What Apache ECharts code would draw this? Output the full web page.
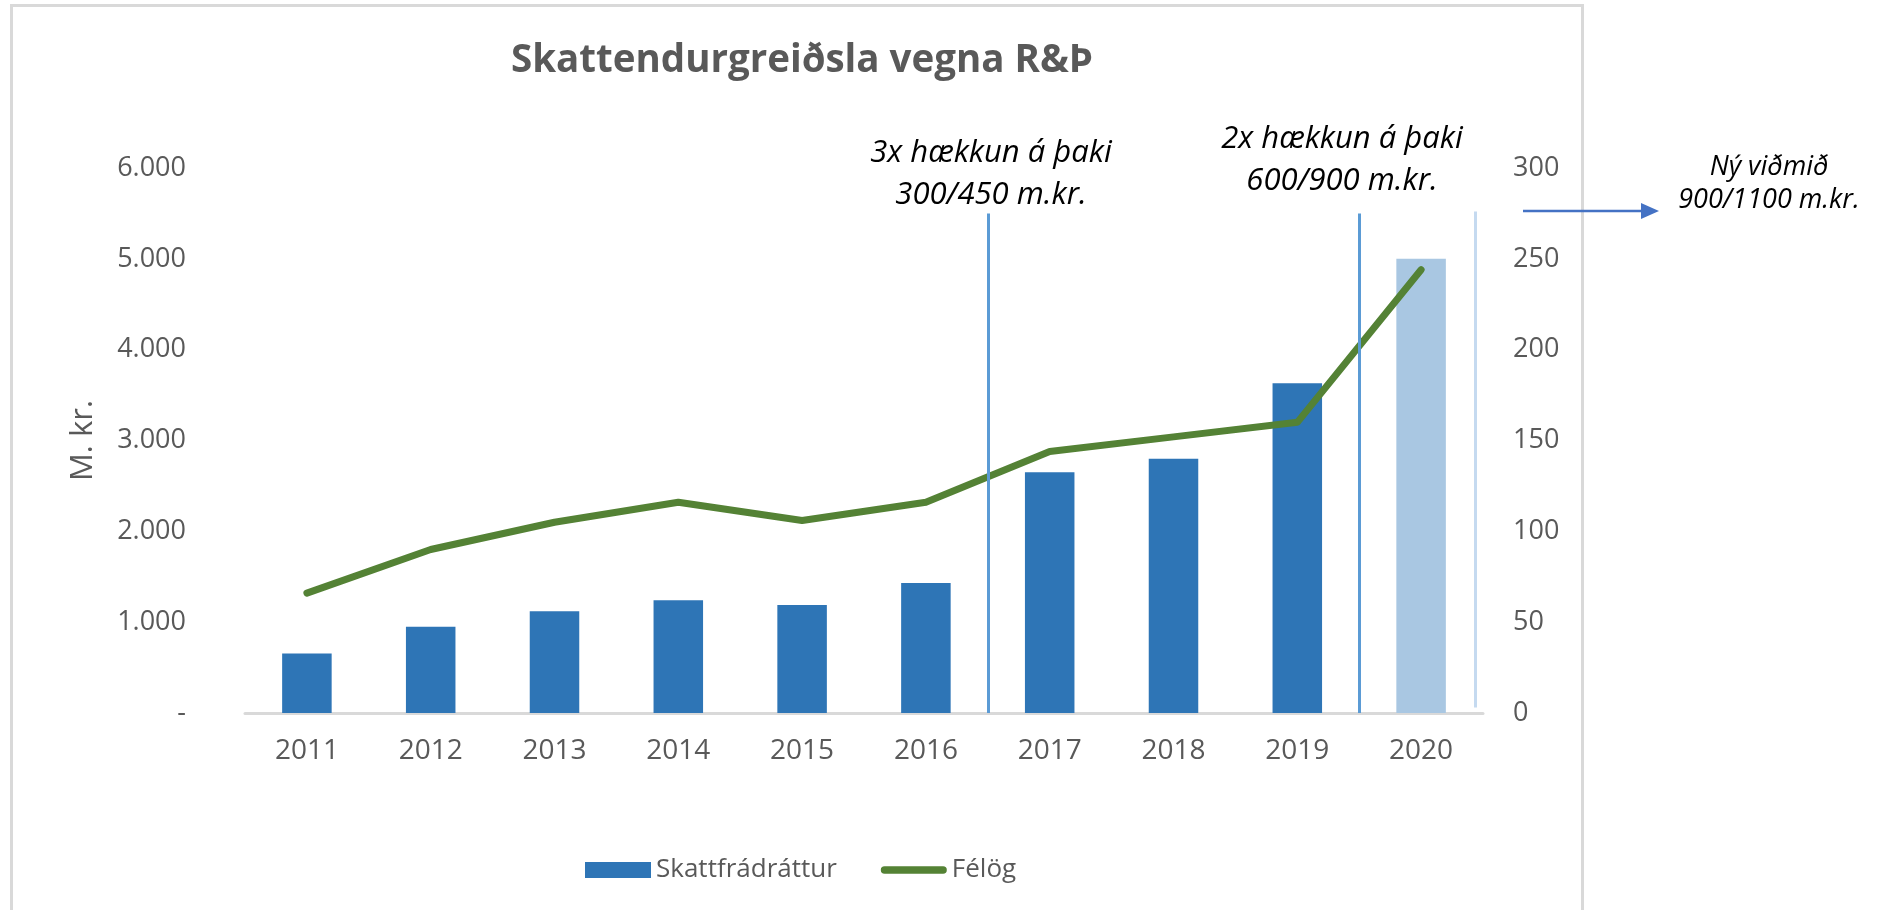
<!DOCTYPE html>
<html>
<head>
<meta charset="utf-8">
<title>Skattendurgreiðsla vegna R&amp;Þ</title>
<script src="https://cdn.jsdelivr.net/npm/echarts@6/dist/echarts.min.js"></script>
<style>
  html, body { margin: 0; padding: 0; background: #fff; }
  #chart { width: 1880px; height: 910px; }
</style>
</head>
<body>
<div id="chart"></div>
<script>
// data
var years = ['2011', '2012', '2013', '2014', '2015', '2016', '2017', '2018', '2019', '2020']
var skattfradrattur = [655, 950, 1120, 1240, 1190, 1430, 2650, 2800, 3630, 5000] // m.kr., left axis
var felog = [66, 90, 105, 116, 106, 116, 144, 152, 160, 244] // right axis
var leftTicks = [0, 6000, 1000]
var rightTicks = [0, 300, 50]

// vertical marker lines: position in category units (boundary between years), top / bottom value on left axis
var markerPos = [6, 9, 9.94]
var markerTop = [5500, 5500, 5520]
var markerBottom = [0, 0, 60]
var markerColor = ['#5B9BD5', '#5B9BD5', '#C5DAF0']

var grey = '#595959'
var font = '"Open Sans", "Noto Sans", sans-serif'

function thousands(v) {
  if (v === 0) return '-'
  return String(v).replace(/\B(?=(\d{3})+(?!\d))/g, '.')
}

var chart = echarts.init(document.getElementById('chart'), null, { renderer: 'canvas' })

var barData = skattfradrattur.map(function (v, i) {
  // last year is the estimate -> lighter bar
  if (i === skattfradrattur.length - 1) return { value: v, itemStyle: { color: '#A9C7E2' } }
  return v
})

var markLines = markerPos.map(function (x, i) {
  return [
    { coord: [x, markerTop[i]], lineStyle: { color: markerColor[i], width: 3, type: 'solid' } },
    { coord: [x, markerBottom[i]] }
  ]
})

chart.setOption({
  animation: false,
  textStyle: { fontFamily: font },
  title: {
    text: 'Skattendurgreiðsla vegna R&Þ',
    left: 797,
    top: 37,
    textAlign: 'center',
    textStyle: { color: grey, fontSize: 38.5, fontWeight: 'bold', fontFamily: font }
  },
  grid: { left: 245, right: 397, top: 168, bottom: 197 },
  legend: {
    data: [
      { name: 'Skattfrádráttur', icon: 'rect' },
      { name: 'Félög', icon: 'path://M4,0 H66 A4,4 0 0 1 66,8 H4 A4,4 0 0 1 4,0 Z' }
    ],
    left: 580,
    top: 852,
    itemWidth: 66,
    itemHeight: 16,
    itemGap: 44,
    textStyle: { color: grey, fontSize: 26, fontFamily: font },
    selectedMode: false
  },
  xAxis: [{
    type: 'category',
    data: years,
    axisLine: { lineStyle: { color: '#D9D9D9', width: 3 } },
    axisTick: { show: false },
    axisLabel: { color: grey, fontSize: 28, margin: 24, fontFamily: font },
    splitLine: { show: false }
  }, {
    // hidden helper axis, 0..10 lined up with the category bands
    type: 'value',
    min: 0,
    max: 10,
    show: false
  }],
  yAxis: [{
    type: 'value',
    min: leftTicks[0],
    max: leftTicks[1],
    interval: leftTicks[2],
    name: 'M. kr.',
    nameLocation: 'middle',
    nameRotate: 90,
    nameGap: 146,
    nameTextStyle: { color: grey, fontSize: 31, fontFamily: font },
    axisLine: { show: false },
    axisTick: { show: false },
    splitLine: { show: false },
    axisLabel: { color: grey, fontSize: 27, margin: 59, fontFamily: font, formatter: thousands }
  }, {
    type: 'value',
    min: rightTicks[0],
    max: rightTicks[1],
    interval: rightTicks[2],
    position: 'right',
    axisLine: { show: false },
    axisTick: { show: false },
    splitLine: { show: false },
    axisLabel: { color: grey, fontSize: 27, margin: 30, fontFamily: font }
  }],
  series: [{
    name: 'Skattfrádráttur',
    type: 'bar',
    data: barData,
    barWidth: '40%',
    itemStyle: { color: '#2E75B6' },
    z: 2
  }, {
    name: 'Félög',
    type: 'line',
    yAxisIndex: 1,
    data: felog,
    symbol: 'none',
    lineStyle: { color: '#548235', width: 7, cap: 'round', join: 'round' },
    itemStyle: { color: '#548235' },
    z: 4
  }, {
    type: 'line',
    xAxisIndex: 1,
    yAxisIndex: 0,
    data: [],
    z: 3,
    markLine: {
      silent: true,
      symbol: 'none',
      label: { show: false },
      data: markLines
    }
  }],
  graphic: [{
    // outer chart frame
    type: 'rect',
    shape: { x: 11.5, y: 5.5, width: 1571, height: 930 },
    style: { fill: null, stroke: '#D9D9D9', lineWidth: 3 },
    silent: true
  }, {
    type: 'text',
    x: 991,
    y: 132,
    style: {
      text: '3x hækkun á þaki\n300/450 m.kr.',
      font: 'italic 31px ' + font,
      fill: '#000',
      align: 'center',
      verticalAlign: 'top',
      lineHeight: 42
    }
  }, {
    type: 'text',
    x: 1342,
    y: 118,
    style: {
      text: '2x hækkun á þaki\n600/900 m.kr.',
      font: 'italic 31px ' + font,
      fill: '#000',
      align: 'center',
      verticalAlign: 'top',
      lineHeight: 42
    }
  }, {
    type: 'text',
    x: 1769,
    y: 151,
    style: {
      text: 'Ný viðmið\n900/1100 m.kr.',
      font: 'italic 27px ' + font,
      fill: '#000',
      align: 'center',
      verticalAlign: 'top',
      lineHeight: 33
    }
  }, {
    type: 'line',
    shape: { x1: 1523, y1: 211, x2: 1646, y2: 211 },
    style: { stroke: '#4472C4', lineWidth: 2.5 }
  }, {
    type: 'polygon',
    shape: { points: [[1641, 203], [1659, 211], [1641, 219]] },
    style: { fill: '#4472C4' }
  }]
})
</script>
</body>
</html>
